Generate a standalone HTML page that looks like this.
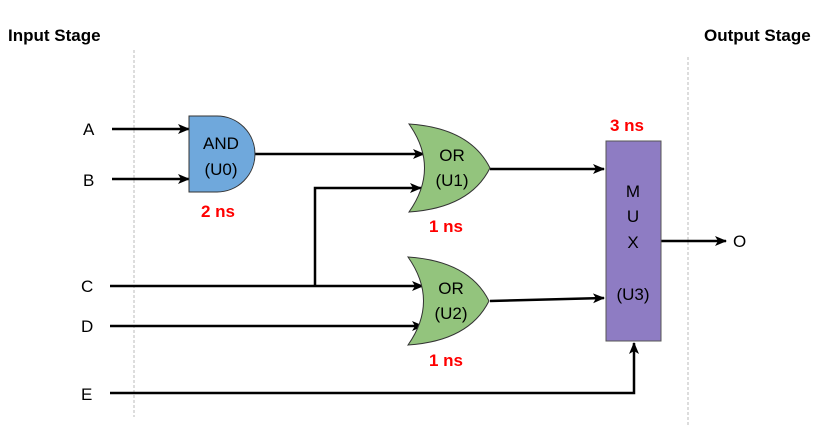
<!DOCTYPE html>
<html><head><style>
html,body{margin:0;padding:0;background:#fff;}
svg{display:block;}
text{font-family:"Liberation Sans",sans-serif;}
</style></head><body>
<svg width="837" height="431" viewBox="0 0 837 431" xmlns="http://www.w3.org/2000/svg">
<defs>
<marker id="ar" viewBox="0 0 12 10" refX="11" refY="5" markerWidth="12" markerHeight="10" markerUnits="userSpaceOnUse" orient="auto">
<path d="M0,0 L12,5 L0,10 L3,5 Z" fill="#000"/>
</marker>
</defs>
<text x="8" y="41" font-size="17" font-weight="bold">Input Stage</text>
<text x="704" y="41" font-size="17" font-weight="bold">Output Stage</text>
<line x1="134" y1="50" x2="134" y2="417" stroke="#bbb" stroke-dasharray="3,2"/>
<line x1="688" y1="57" x2="688" y2="425" stroke="#bbb" stroke-dasharray="3,2"/>

<g font-size="17">
<text x="83" y="135">A</text>
<text x="83" y="186">B</text>
<text x="81" y="292">C</text>
<text x="81" y="332">D</text>
<text x="81" y="400">E</text>
<text x="733" y="247">O</text>
</g>

<g stroke="#000" stroke-width="2.5" fill="none">
<line x1="112" y1="129" x2="189" y2="129" marker-end="url(#ar)"/>
<line x1="112" y1="179" x2="189" y2="179" marker-end="url(#ar)"/>
<line x1="255" y1="154" x2="424" y2="154" marker-end="url(#ar)"/>
<polyline points="315,286 315,188 421,188" marker-end="url(#ar)"/>
<line x1="110" y1="286" x2="423" y2="286" marker-end="url(#ar)"/>
<line x1="110" y1="326" x2="423" y2="326" marker-end="url(#ar)"/>
<line x1="490" y1="169" x2="604" y2="169" marker-end="url(#ar)"/>
<line x1="490" y1="301" x2="604" y2="298" marker-end="url(#ar)"/>
<polyline points="110,393 634,393 634,343" marker-end="url(#ar)"/>
<line x1="661" y1="241" x2="726" y2="241" marker-end="url(#ar)"/>
</g>

<path d="M189,116 L217,116 A38,38 0 0 1 217,192 L189,192 Z" fill="#6fa8dc" stroke="#333" stroke-width="1"/>
<text x="221" y="149" font-size="17" text-anchor="middle">AND</text>
<text x="221" y="175" font-size="17" text-anchor="middle">(U0)</text>
<text x="218" y="217" font-size="17" font-weight="bold" fill="#f00" text-anchor="middle">2 ns</text>

<path d="M409,124 Q470,128 490,168 Q470,208 409,212 Q440,168 409,124 Z" fill="#93c47d" stroke="#333" stroke-width="1"/>
<text x="452" y="161" font-size="17" text-anchor="middle">OR</text>
<text x="452" y="186" font-size="17" text-anchor="middle">(U1)</text>
<text x="446" y="232" font-size="17" font-weight="bold" fill="#f00" text-anchor="middle">1 ns</text>

<path d="M408,257 Q469,261 489,301 Q469,341 408,345 Q439,301 408,257 Z" fill="#93c47d" stroke="#333" stroke-width="1"/>
<text x="451" y="294" font-size="17" text-anchor="middle">OR</text>
<text x="451" y="319" font-size="17" text-anchor="middle">(U2)</text>
<text x="446" y="366" font-size="17" font-weight="bold" fill="#f00" text-anchor="middle">1 ns</text>

<rect x="606" y="141" width="55" height="200" fill="#8e7cc3" stroke="#555" stroke-width="1"/>
<text x="633" y="197" font-size="17" text-anchor="middle">M</text>
<text x="633" y="222" font-size="17" text-anchor="middle">U</text>
<text x="633" y="248" font-size="17" text-anchor="middle">X</text>
<text x="633" y="300" font-size="17" text-anchor="middle">(U3)</text>
<text x="627" y="131" font-size="17" font-weight="bold" fill="#f00" text-anchor="middle">3 ns</text>
</svg>
</body></html>
